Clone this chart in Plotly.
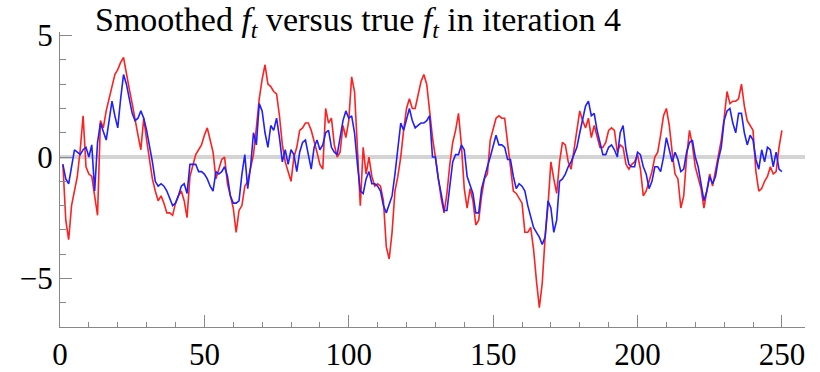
import plotly.graph_objects as go

t_index = list(range(1, 251))

true_f = [
    -0.3, -2.6, -3.4, -2.0, -1.4, -0.8, 0.3, 1.7, -0.4, -0.7,
    -0.8, -1.6, -2.4, 1.5, 1.2, 1.9, 2.4, 2.9, 3.4, 3.6,
    3.9, 4.1, 3.4, 2.8, 2.2, 1.5, 0.9, 0.3, 1.6, 0.7,
    -0.2, -0.9, -1.4, -1.8, -1.6, -1.9, -2.3, -2.3, -2.4, -1.9,
    -1.6, -1.4, -1.8, -2.5, -0.8, -0.4, 0.1, 0.3, 0.5, 0.9,
    1.2, 0.7, 0.2, -0.9, -0.5, -0.1, 0.0, -1.1, -1.6, -2.1,
    -3.1, -2.2, -2.0, -1.2, -1.0, -0.5, 0.1, 1.2, 2.4, 3.2,
    3.8, 3.0, 2.9, 2.7, 2.6, 1.7, 0.5, -0.2, -0.6, -1.0,
    0.0, 0.4, 1.1, 1.2, 1.4, 1.4, 1.1, 0.7, 0.2, -0.3,
    -0.5, 2.0, 1.4, 1.6, 0.5, 0.0, 0.2, 1.3, 0.8, 1.5,
    3.3, 2.7, 0.3, -2.0, 0.4, -0.7, 0.0, -0.8, -1.2, -1.1,
    -1.2, -1.8, -3.7, -4.2, -3.1, -1.4, -0.8, 0.0, 1.1, 2.0,
    2.4, 2.0, 2.0, 2.5, 3.1, 3.4, 3.0, 1.9, 0.8, 0.0,
    -0.9, -1.7, -2.3, -1.5, -0.3, 0.6, 1.1, 1.8, 0.5, -1.3,
    -2.1, -1.3, -1.8, -2.8, -2.6, -1.6, -0.9, -0.7, 0.7, 1.1,
    1.6, 1.7, 1.6, 1.6, 0.6, -0.4, -1.4, -1.5, -1.7, -1.9,
    -3.1, -3.1, -2.9, -3.8, -5.1, -6.2, -5.2, -3.3, -2.0, -0.2,
    -0.9, -1.5, -0.2, 0.6, 0.5, -0.2, -0.5, 0.3, 1.3, 1.9,
    1.5, 1.2, 1.6, 0.8, 1.3, 0.8, 0.4, 0.4, 0.6, 1.1,
    1.2, 1.1, 0.2, 0.5, 0.4, -0.3, -0.5, -0.3, -0.2, 0.1,
    -0.5, -1.6, -1.4, -1.0, -0.6, 0.0, 0.2, 0.9, 1.7, 2.0,
    1.3, 0.2, -0.7, -0.9, -2.1, -1.6, 0.0, 1.1, 0.5, -0.4,
    -0.9, -1.3, -2.1, -1.3, -0.7, -1.2, -0.6, 0.0, 0.7, 1.6,
    2.7, 2.2, 2.3, 2.3, 2.4, 3.0, 2.1, 1.5, 1.3, 1.1,
    -0.6, -1.4, -1.3, -1.0, -0.8, -0.4, -0.7, -0.6, 0.4, 1.1,
]

smoothed_f = [
    -0.3, -0.9, -1.1, -0.3, 0.3, 0.2, 0.1, 0.3, 0.4, 0.0,
    0.5, -1.4, 0.6, 1.4, 1.0, 0.7, 1.5, 2.3, 1.7, 1.2,
    2.4, 3.4, 3.0, 2.4, 1.8, 1.5, 1.6, 1.9, 1.6, 1.1,
    0.5, -0.2, -1.0, -1.2, -1.1, -1.2, -1.4, -1.7, -2.0, -1.9,
    -1.6, -1.2, -1.1, -1.5, -0.3, -0.3, -0.3, -0.6, -0.6, -0.7,
    -0.9, -1.2, -1.4, -0.6, -0.7, -0.6, -0.4, -0.8, -1.6, -1.9,
    -1.9, -1.8, -0.7, 0.1, -1.3, -0.4, 1.0, 0.5, 2.2, 1.9,
    1.0, 0.4, 1.3, 1.1, 1.6, 0.8, -0.2, 0.3, -0.3, 0.3,
    0.1, -0.6, 0.2, 0.6, 0.7, 0.1, -0.5, 0.4, 0.7, 0.3,
    0.5, 1.0, 1.1, 0.4, 0.2, 0.1, 0.8, 1.5, 1.9, 1.6,
    1.7, 1.0, -0.3, -1.4, -1.5, -0.9, -0.6, -1.1, -1.1, -1.2,
    -1.4, -2.0, -2.3, -1.9, -1.6, -0.7, 0.5, 1.4, 1.1, 1.6,
    2.0, 1.5, 1.2, 1.3, 1.4, 1.4, 1.5, 1.7, 0.0, 0.0,
    -0.9, -1.5, -2.2, -2.2, -1.1, -0.2, 0.1, 0.1, 0.5, 0.3,
    -0.8, -1.2, -1.5, -2.3, -2.3, -1.3, -0.8, -0.4, 0.0, 0.4,
    0.9, 0.5, 0.5, 0.4, -0.1, -0.1, -0.8, -1.3, -1.1, -1.2,
    -1.4, -2.0, -2.4, -2.9, -3.1, -3.3, -3.6, -3.3, -1.8, -2.1,
    -3.1, -2.6, -1.0, -0.9, -0.7, -0.4, -0.2, 0.1, 0.4, 1.0,
    1.6, 2.1, 2.3, 1.7, 1.8, 1.1, 0.6, 0.1, 0.1, 0.4,
    0.5, 0.3, 0.0, 1.0, 1.3, 0.3, -0.3, -0.4, -0.4, 0.2,
    0.1, -0.4, -0.7, -1.3, -1.0, -0.4, -0.4, -0.6, 0.0, 0.8,
    0.3, -0.2, 0.2, -0.1, -0.6, -0.5, 0.2, 0.6, 0.7, 0.0,
    -0.4, -1.2, -1.8, -1.4, -0.8, -1.1, -0.8, -0.1, 0.4, 1.5,
    1.9, 2.0, 1.4, 1.0, 1.8, 1.8, 1.0, 0.5, 0.9, 0.7,
    -0.1, -0.5, 0.3, -0.2, 0.4, 0.3, -0.4, 0.2, -0.5, -0.6,
]

x_tick_vals = [0, 50, 100, 150, 200, 250]
x_tick_text = ["0", "50", "100", "150", "200", "250"]
y_tick_vals = [-5, 0, 5]
y_tick_text = ["\u22125", "0", "5"]

title_text = ("Smoothed <i>f</i><sub><i>t</i></sub> versus true "
              "<i>f</i><sub><i>t</i></sub> in iteration 4")

fig = go.Figure()
fig.add_trace(go.Scatter(x=t_index, y=true_f, mode="lines",
                         line=dict(color="#ff2020", width=1.6), showlegend=False))
fig.add_trace(go.Scatter(x=t_index, y=smoothed_f, mode="lines",
                         line=dict(color="#2020ff", width=1.6), showlegend=False))

axis_font = dict(family="Liberation Serif", size=31, color="black")

fig.update_layout(
    width=820, height=372,
    margin=dict(l=60, r=15, t=32, b=45),
    paper_bgcolor="white", plot_bgcolor="white",
    title=dict(text=title_text, x=95/820, xanchor="left", xref="container",
               y=1 - 19/372, yanchor="middle", yref="container",
               font=dict(family="Liberation Serif", size=34, color="black")),
)
fig.update_xaxes(
    range=[0, 258], showgrid=False, zeroline=False, automargin=False,
    showline=True, linecolor="#888888", linewidth=1,
    ticks="inside", ticklen=12, tickwidth=1, tickcolor="#888888",
    tickmode="array", tickvals=x_tick_vals, ticktext=x_tick_text,
    minor=dict(ticks="inside", ticklen=5, tickwidth=1, tickcolor="#888888",
               dtick=10, tick0=0, showgrid=False),
    tickfont=axis_font,
)
fig.update_yaxes(
    range=[-7, 5.15], showgrid=False, automargin=False,
    zeroline=True, zerolinecolor="#d4d4d4", zerolinewidth=4,
    showline=True, linecolor="#888888", linewidth=1,
    ticks="inside", ticklen=12, tickwidth=1, tickcolor="#888888",
    tickmode="array", tickvals=y_tick_vals, ticktext=y_tick_text,
    minor=dict(ticks="inside", ticklen=6, tickwidth=1, tickcolor="#888888",
               dtick=1, tick0=0, showgrid=False),
    tickfont=axis_font,
)

fig.write_html("out.html")
